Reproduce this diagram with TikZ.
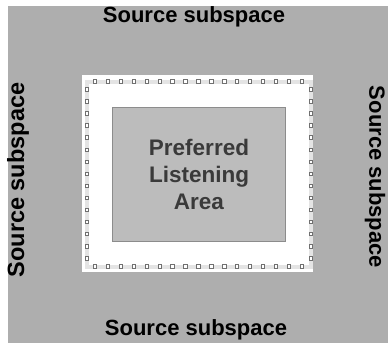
\documentclass[tikz,border=0pt]{standalone}
\usepackage{fontspec}
\setmainfont{Liberation Sans}
\definecolor{bggray}{HTML}{AEAEAE}
\definecolor{boxgray}{HTML}{BCBCBC}
\definecolor{boxedge}{HTML}{8C8C8C}
\definecolor{band}{HTML}{E4E4E4}
\definecolor{sqedge}{HTML}{707070}
\definecolor{innertext}{HTML}{3A3A3A}
\tikzset{
  lbl/.style={font=\bfseries\fontsize{22}{24}\selectfont, text=black, inner sep=0pt},
  sq/.style={draw=sqedge, fill=white, line width=0.8pt, minimum size=3.4pt, inner sep=0pt, shape=rectangle},
}
\begin{document}
\begin{tikzpicture}[x=1pt,y=-1pt]
\useasboundingbox (0,0) rectangle (388,343);
\fill[white] (0,0) rectangle (388,343);
\fill[bggray] (8,6) rectangle (388,343);
\fill[white] (82,75) rectangle (313,272);
\draw[band, line width=4pt] (86.7,81.5) rectangle (310.7,266.5);
\foreach \i in {0,...,16} {
  \node[sq] (t\i) at ({95+\i*12.92},81.5) {};
  \node[sq] (b\i) at ({95+\i*12.92},266.5) {};
}
\foreach \i in {0,...,14} {
  \node[sq] (l\i) at (86.7,{89.3+\i*12.07}) {};
  \node[sq] (r\i) at (310.7,{89.3+\i*12.07}) {};
}
\node[draw=boxedge, fill=boxgray, line width=1pt, minimum width=173pt, minimum height=134pt, inner sep=0pt, anchor=north west] (pla) at (112,107) {};
\node[font=\bfseries\fontsize{22.5}{27}\selectfont, text=innertext, align=center] (plat) at (199,174) {Preferred\\Listening\\Area};
\node[lbl] (top) at (194,17) {Source subspace};
\node[lbl] (bot) at (196,330) {Source subspace};
\node[lbl, font=\bfseries\fontsize{23.5}{25}\selectfont, rotate=90] (left) at (18,180) {Source subspace};
\node[lbl, rotate=-90] (right) at (375,177) {Source subspace};
\end{tikzpicture}
\end{document}
